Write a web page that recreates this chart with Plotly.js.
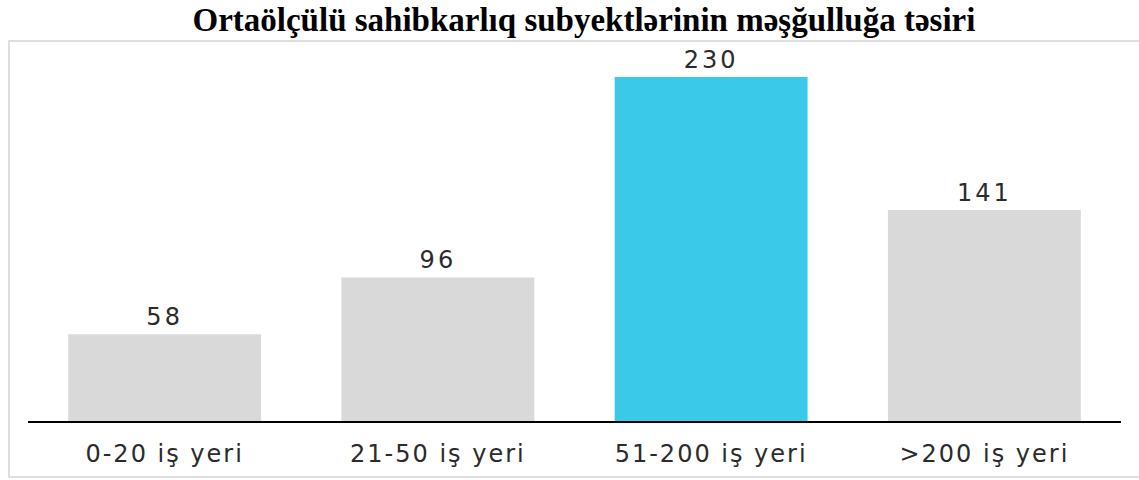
<!DOCTYPE html>
<html><head><meta charset="utf-8">
<script src="https://cdn.plot.ly/plotly-3.0.1.min.js"></script>
<style>
html,body{margin:0;padding:0;background:#fff;}
#chart{width:1139px;height:480px;}
#chart .xtick text{letter-spacing:2px;}
#chart text.bartext{letter-spacing:3px;}
</style>
</head><body><div id="chart"></div>
<script>
const categories = ["0-20 iş yeri", "21-50 iş yeri", "51-200 iş yeri", ">200 iş yeri"];
const values = [58, 96, 230, 141];
const barColors = ["#d9d9d9", "#d9d9d9", "#3bc9ea", "#d9d9d9"];
const titleText = "Ortaölçülü sahibkarlıq subyektlərinin məşğulluğa təsiri";

const trace = {
  type: "bar",
  x: categories,
  y: values,
  text: values.map(String),
  textposition: "outside",
  cliponaxis: false,
  textfont: {family: "DejaVu Sans, Arial, sans-serif", size: 24, color: "#2b2b2b"},
  marker: {color: barColors},
  hoverinfo: "none"
};

const layout = {
  width: 1139, height: 480,
  margin: {l: 28, r: 18, t: 60, b: 59},
  paper_bgcolor: "#ffffff", plot_bgcolor: "#ffffff",
  bargap: 0.294,
  showlegend: false,
  title: {
    text: "<b>" + titleText + "</b>",
    font: {family: "Liberation Serif, Times New Roman, serif", size: 33, color: "#000000"},
    x: 0.5127, xanchor: "center", xref: "container",
    y: 1 - 19/480, yanchor: "middle", yref: "container"
  },
  xaxis: {
    showline: true, linecolor: "#000000", linewidth: 2,
    showgrid: false, zeroline: false, ticks: "",
    ticklabelstandoff: 10,
    tickfont: {family: "DejaVu Sans, Arial, sans-serif", size: 24, color: "#2b2b2b"}
  },
  yaxis: {
    range: [0, 241.3], visible: false, showgrid: false, zeroline: false
  },
  shapes: [{
    type: "rect", xref: "paper", yref: "paper",
    x0: -0.0174, x1: 1.06, y0: -0.155, y1: 1.0526,
    line: {color: "#dedede", width: 2}, fillcolor: "rgba(0,0,0,0)", layer: "below"
  }]
};

Plotly.newPlot("chart", [trace], layout, {displayModeBar: false, staticPlot: true});
</script></body></html>
